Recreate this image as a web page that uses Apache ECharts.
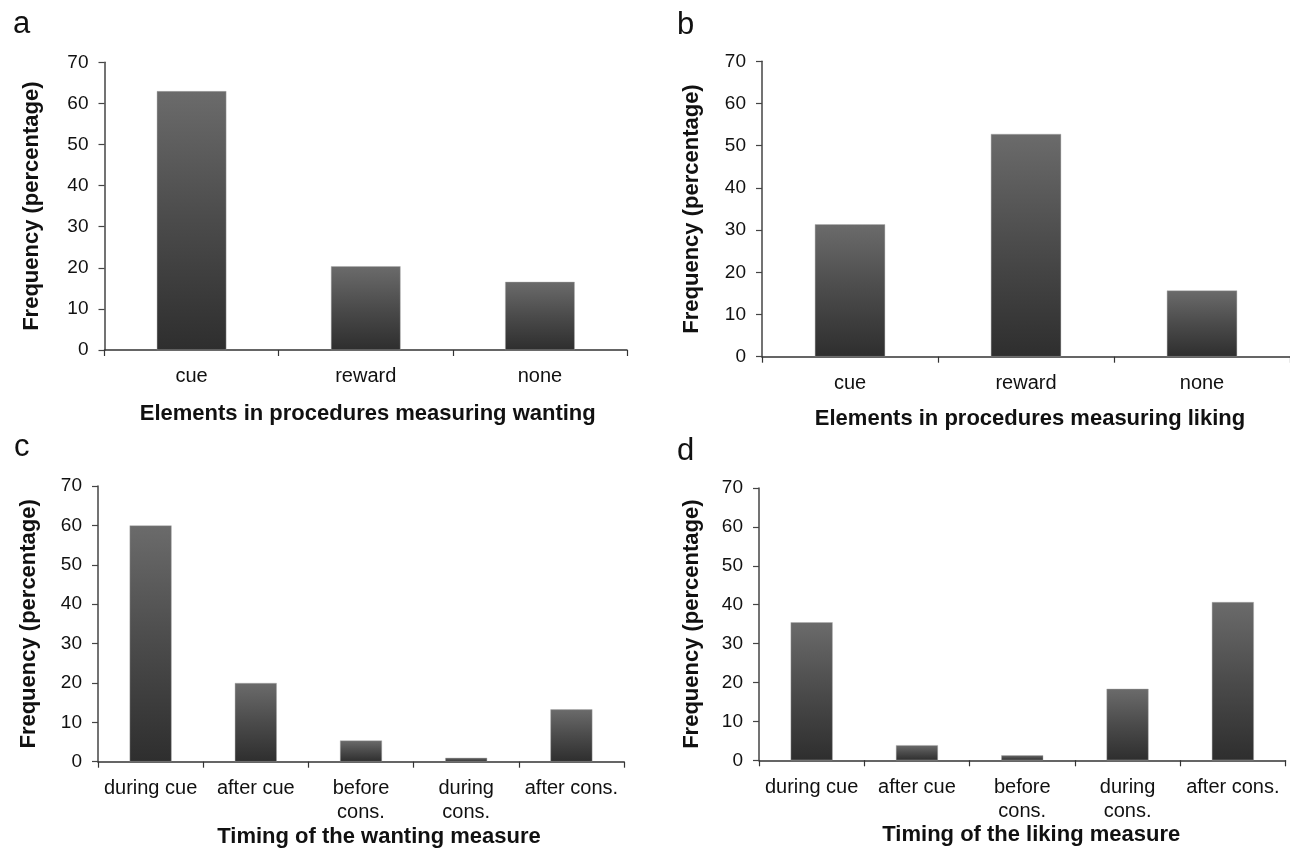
<!DOCTYPE html>
<html><head><meta charset="utf-8">
<script src="https://cdn.jsdelivr.net/npm/echarts@6/dist/echarts.min.js"></script>
<style>html,body{margin:0;padding:0;background:#fff;}#c{width:1290px;height:849px;}</style>
</head><body><div id="c"></div>
<script>
const catsAB = ['cue', 'reward', 'none'];
const catsCD = ['during cue', 'after cue', 'before\ncons.', 'during\ncons.', 'after cons.'];
const wantingElements = [63, 20.4, 16.6];
const likingElements = [31.4, 52.8, 15.7];
const wantingTiming = [60.0, 20.0, 5.4, 1.0, 13.3];
const likingTiming = [35.5, 3.9, 1.3, 18.4, 40.7];
const yTicks = [0, 10, 20, 30, 40, 50, 60, 70];
const xTitles = ['Elements in procedures measuring wanting', 'Elements in procedures measuring liking', 'Timing of the wanting measure', 'Timing of the liking measure'];
const yTitle = 'Frequency (percentage)';
const panelLetters = ['a', 'b', 'c', 'd'];

const FONT = '"Liberation Sans", Arial, Helvetica, sans-serif';
const chart = echarts.init(document.getElementById('c'), null, {renderer: 'canvas'});

const grids = [
  {left: 104.5, top: 62.3, width: 522.5, height: 287.7},
  {left: 762, top: 61.3, width: 528, height: 295.4},
  {left: 98, top: 486, width: 526, height: 275.7},
  {left: 759, top: 488, width: 526.5, height: 272.3}
];
const cats = [catsAB, catsAB, catsCD, catsCD];
const data = [wantingElements, likingElements, wantingTiming, likingTiming];
const yNameGap = [62, 59, 58, 56];
const xNameGap = [53, 51, 63, 63];
const xNameShift = [2, 4, 18, 9];
const xLabelMargin = [14, 15, 15, 15];
const letterPos = [[8, 4], [672, 5], [9, 427], [672, 431]];

const barGrad = new echarts.graphic.LinearGradient(0, 0, 0, 1, [
  {offset: 0, color: '#6b6b6b'},
  {offset: 0.5, color: '#4b4b4b'},
  {offset: 1, color: '#2e2e2e'}
]);

const option = {
  animation: false,
  backgroundColor: '#ffffff',
  title: panelLetters.map((l, i) => ({
    text: l, left: letterPos[i][0], top: letterPos[i][1],
    textStyle: {fontFamily: FONT, fontSize: 31, fontWeight: 'normal', color: '#111'}
  })),
  grid: grids.map(g => Object.assign({containLabel: false}, g)),
  xAxis: grids.map((g, i) => ({
    type: 'category', gridIndex: i, data: cats[i],
    name: xTitles[i], nameLocation: 'middle', nameGap: xNameGap[i],
    nameTextStyle: {fontFamily: FONT, fontSize: 22, fontWeight: 'bold', color: '#111',
      padding: [0, 0, 0, xNameShift[i] * 2]},
    axisLine: {lineStyle: {color: '#333', width: 1.5}},
    axisTick: {show: true, alignWithLabel: false, length: 6, lineStyle: {color: '#333', width: 1.2}},
    axisLabel: {fontFamily: FONT, fontSize: 20, color: '#111', margin: xLabelMargin[i], lineHeight: 24, interval: 0}
  })),
  yAxis: grids.map((g, i) => ({
    type: 'value', gridIndex: i, min: yTicks[0], max: yTicks[yTicks.length - 1], interval: 10,
    name: yTitle, nameLocation: 'middle', nameRotate: 90, nameGap: yNameGap[i],
    nameTextStyle: {fontFamily: FONT, fontSize: 22, fontWeight: 'bold', color: '#111'},
    axisLine: {show: true, lineStyle: {color: '#444', width: 1.5}},
    axisTick: {show: true, length: 6, lineStyle: {color: '#444', width: 1.2}},
    splitLine: {show: false},
    axisLabel: {fontFamily: FONT, fontSize: 19, color: '#111', margin: 16}
  })),
  series: data.map((d, i) => ({
    type: 'bar', xAxisIndex: i, yAxisIndex: i, data: d,
    barCategoryGap: '60%',
    itemStyle: {color: barGrad, borderColor: 'rgba(170,170,170,0.7)', borderWidth: 0.6}
  }))
};
chart.setOption(option);
</script>
</body></html>
